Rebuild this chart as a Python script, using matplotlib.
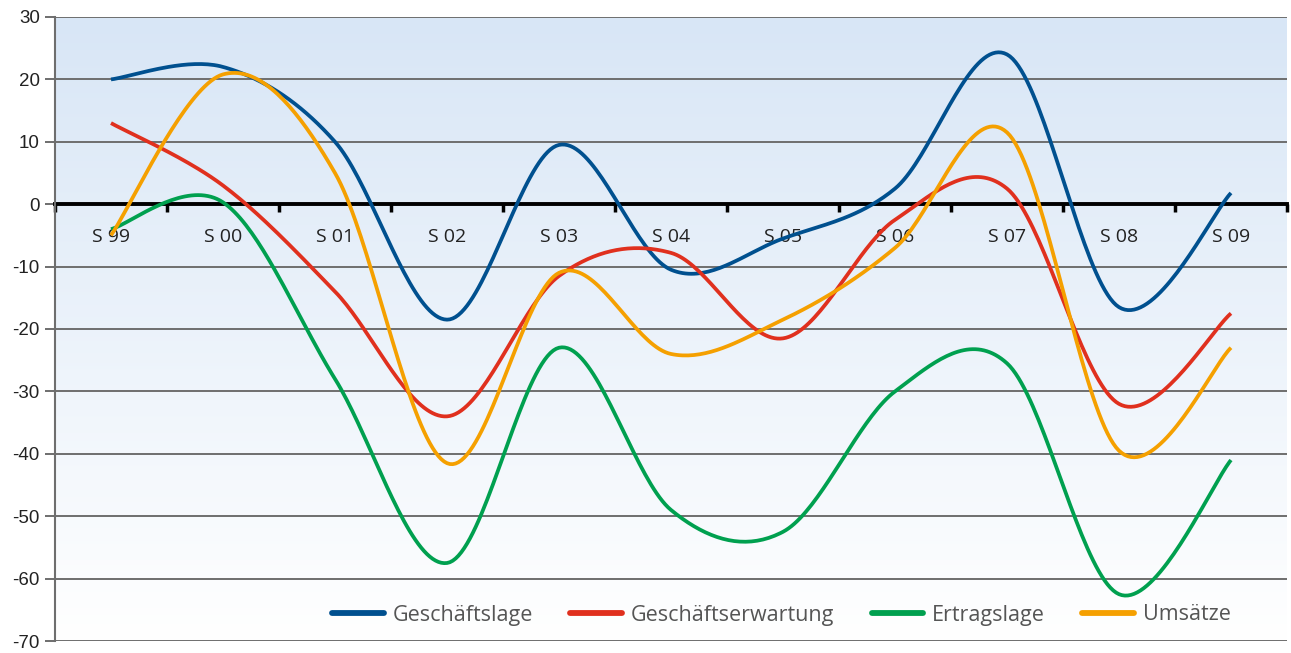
import matplotlib
matplotlib.use("Agg")
import matplotlib.pyplot as plt
import numpy as np
from matplotlib.colors import LinearSegmentedColormap

labels = ["S 99", "S 00", "S 01", "S 02", "S 03", "S 04", "S 05", "S 06", "S 07", "S 08", "S 09"]
geschaeftslage = [20, 22, 10, -18.5, 9.5, -10.5, -5.5, 2.5, 24, -16.5, 1.8]
geschaeftserwartung = [13, 3, -14, -34, -11.5, -7.8, -21.5, -2.5, 2.5, -32, -17.5]
ertragslage = [-4, 0.3, -28, -57.5, -23, -49, -52.5, -30, -25.5, -62.5, -41]
umsaetze = [-5, 20.8, 5, -41.5, -11, -24, -18.5, -7, 11.5, -39.5, -23]

series = [
    ("Geschäftslage", geschaeftslage, "#00508f"),
    ("Geschäftserwartung", geschaeftserwartung, "#e0301e"),
    ("Ertragslage", ertragslage, "#00a04f"),
    ("Umsätze", umsaetze, "#f5a000"),
]


def smooth(vals, n=40):
    # excel-like smoothed line (catmull-rom as bezier)
    p = np.array(vals, dtype=float)
    x = np.arange(len(p), dtype=float)
    pts = np.column_stack([x, p])
    ext = np.vstack([pts[0], pts, pts[-1]])
    t = np.linspace(0, 1, n)[:, None]
    out = []
    for i in range(len(pts) - 1):
        p0 = ext[i + 1]
        p3 = ext[i + 2]
        c1 = p0 + (ext[i + 2] - ext[i]) / 6
        c2 = p3 - (ext[i + 3] - ext[i + 1]) / 6
        seg = ((1 - t) ** 3) * p0 + 3 * ((1 - t) ** 2) * t * c1 + 3 * (1 - t) * t ** 2 * c2 + t ** 3 * p3
        out.append(seg if i == 0 else seg[1:])
    out = np.vstack(out)
    return out[:, 0], out[:, 1]


fig = plt.figure(figsize=(12.91, 6.53), dpi=100)
ax = fig.add_axes([55 / 1291, 12 / 653, 1232 / 1291, 624 / 653])

ax.set_xlim(-0.5, 10.5)
ax.set_ylim(-70, 30)

cmap = LinearSegmentedColormap.from_list("bg", ["#d8e6f6", "#ffffff"])
ax.imshow(np.linspace(0, 1, 256).reshape(-1, 1), cmap=cmap, extent=[-0.5, 10.5, -70, 30],
          aspect="auto", zorder=0)

for yv in range(-70, 31, 10):
    if yv != 0:
        ax.axhline(yv, color="#6e6e6e", lw=1.4, zorder=1)

for name, vals, col in series:
    xs, ys = smooth(vals)
    ax.plot(xs, ys, color=col, lw=2.7, label=name, zorder=3, solid_capstyle="butt")

# x axis on the zero line
ax.spines["bottom"].set_position(("data", 0))
ax.spines["bottom"].set_linewidth(2.8)
ax.spines["bottom"].set_color("black")
ax.spines["bottom"].set_zorder(2)
ax.spines["top"].set_visible(False)
ax.spines["right"].set_visible(False)
ax.spines["left"].set_color("#6e6e6e")
ax.spines["left"].set_linewidth(1.5)

ax.set_xticks(np.arange(-0.5, 10.6, 1))
ax.set_xticklabels([])
ax.tick_params(axis="x", which="major", direction="out", length=6, width=2.5, color="black")
ax.set_xticks(np.arange(11), minor=True)
ax.set_xticklabels(labels, minor=True, fontsize=14, color="#222222", fontfamily="Open Sans")
ax.tick_params(axis="x", which="minor", length=0, pad=17)

ax.set_yticks(range(-70, 31, 10))
ax.set_yticklabels([str(v) for v in range(-70, 31, 10)], fontsize=13.5, color="#222222",
                   fontfamily="Liberation Sans")
ax.tick_params(axis="y", direction="out", length=7, width=1.4, color="#6e6e6e", pad=4)

leg = fig.legend(loc="center right", bbox_to_anchor=(1250 / 1291, 38 / 653), ncol=4, frameon=False,
                 handlelength=2.4, handletextpad=0.4, columnspacing=1.75,
                 prop={"family": "Open Sans", "size": 15.5})
for t in leg.get_texts():
    t.set_color("#555555")
for h in leg.legend_handles:
    h.set_linewidth(4.2)
    h.set_solid_capstyle("round")

fig.savefig("out.png", dpi=100)
